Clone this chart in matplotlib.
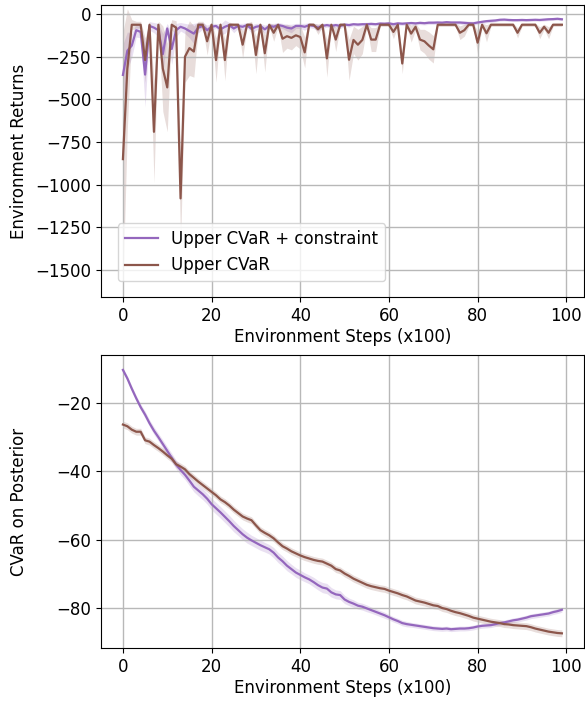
import numpy as np
import matplotlib
matplotlib.use('Agg')
import matplotlib.pyplot as plt

# x axis: environment steps (x100)
steps = np.arange(100)

labels = ['Upper CVaR + constraint', 'Upper CVaR']
colors = ['tab:purple', 'tab:brown']

# top panel: environment returns (mean, std)
returns_constraint = [
    -357, -215, -185, -95, -105, -355, -70, -80, -95, -235,
    -85, -205, -95, -75, -85, -100, -115, -80, -70, -95,
    -75, -70, -90, -75, -65, -85, -70, -75, -65, -88,
    -75, -70, -90, -70, -75, -65, -70, -80, -85, -70,
    -70, -75, -65, -70, -80, -70, -65, -70, -65, -70,
    -62, -65, -60, -62, -60, -60, -58, -60, -56, -57,
    -55, -60, -55, -57, -55, -53, -55, -52, -54, -51,
    -51, -50, -51, -48, -50, -50, -50, -52, -54, -55,
    -50, -46, -42, -40, -38, -34, -33, -35, -36, -36,
    -35, -36, -35, -34, -35, -33, -31, -30, -28, -31,
]
returns_constraint_std = [
    180, 110, 70, 40, 35, 190, 25, 30, 40, 120,
    30, 90, 40, 25, 30, 40, 60, 30, 20, 30,
    20, 15, 30, 40, 15, 25, 15, 20, 15, 25,
    20, 15, 25, 15, 20, 15, 15, 20, 25, 15,
    15, 20, 15, 15, 20, 15, 12, 15, 12, 15,
    10, 12, 10, 10, 10, 12, 10, 10, 10, 10,
    10, 12, 10, 10, 10, 10, 10, 10, 10, 10,
    10, 10, 10, 10, 10, 10, 10, 12, 12, 12,
    10, 10, 10, 10, 8, 8, 8, 8, 8, 8,
    8, 8, 8, 8, 8, 8, 8, 8, 8, 8,
]
returns_upper = [
    -850, -320, -63, -63, -63, -270, -63, -690, -63, -320,
    -430, -63, -80, -1080, -250, -200, -220, -63, -63, -160,
    -63, -270, -63, -270, -63, -63, -63, -180, -63, -63,
    -240, -63, -230, -63, -110, -63, -145, -130, -140, -125,
    -135, -225, -63, -63, -90, -63, -260, -63, -150, -63,
    -63, -268, -152, -180, -152, -63, -150, -150, -63, -63,
    -63, -105, -63, -290, -63, -115, -75, -150, -160, -185,
    -207, -63, -63, -63, -63, -63, -110, -95, -63, -63,
    -168, -63, -113, -63, -63, -63, -63, -63, -63, -110,
    -63, -63, -63, -63, -110, -75, -110, -63, -63, -63,
]
returns_upper_std = [
    740, 350, 30, 20, 20, 130, 20, 300, 20, 250,
    260, 30, 40, 260, 150, 160, 150, 20, 20, 80,
    15, 130, 15, 120, 15, 10, 10, 80, 10, 20,
    110, 10, 110, 10, 50, 10, 80, 70, 70, 60,
    70, 90, 10, 10, 30, 10, 110, 10, 70, 10,
    10, 120, 80, 90, 80, 10, 70, 70, 10, 10,
    10, 40, 10, 60, 10, 50, 20, 60, 70, 80,
    80, 10, 10, 10, 10, 10, 40, 35, 10, 10,
    70, 10, 50, 10, 10, 10, 10, 10, 10, 30,
    10, 10, 10, 10, 35, 15, 35, 10, 10, 10,
]

# bottom panel: CVaR on posterior (mean, std)
cvar_constraint = [
    -10.3, -12.8, -15.8, -18.6, -21.2, -23.4, -25.9, -28.1, -30.0, -32.0,
    -34.0, -36.0, -38.0, -39.6, -41.0, -42.7, -44.5, -45.6, -46.7, -48.0,
    -49.6, -50.8, -52.0, -53.3, -54.6, -56.0, -57.2, -58.4, -59.4, -60.2,
    -60.9, -61.6, -62.2, -62.8, -63.8, -65.2, -66.3, -67.6, -68.6, -69.6,
    -70.3, -71.0, -71.6, -72.4, -73.3, -74.0, -74.3, -75.4, -76.0, -76.2,
    -77.5, -78.2, -78.7, -79.3, -79.6, -80.1, -80.6, -81.1, -81.6, -82.1,
    -82.7, -83.3, -83.8, -84.4, -84.7, -84.9, -85.1, -85.3, -85.5, -85.7,
    -85.9, -86.0, -86.1, -86.0, -86.2, -86.1, -86.0, -86.0, -85.9, -85.7,
    -85.4, -85.2, -85.1, -85.0, -84.7, -84.4, -84.2, -83.9, -83.6, -83.4,
    -83.1, -82.8, -82.4, -82.2, -82.0, -81.8, -81.6, -81.2, -80.9, -80.5,
]
cvar_constraint_std = [
    0.6, 0.7, 0.8, 0.8, 0.9, 1.0, 1.0, 1.1, 1.1, 1.2,
    1.2, 1.3, 1.3, 1.4, 1.4, 1.5, 1.5, 1.6, 1.6, 1.6,
    1.7, 1.7, 1.7, 1.7, 1.7, 1.7, 1.6, 1.6, 1.6, 1.5,
    1.5, 1.5, 1.4, 1.4, 1.5, 1.5, 1.5, 1.5, 1.4, 1.4,
    1.4, 1.3, 1.3, 1.4, 1.4, 1.5, 1.5, 1.4, 1.3, 1.3,
    1.2, 1.1, 1.1, 1.0, 1.0, 1.0, 0.9, 0.9, 0.9, 0.9,
    0.8, 0.8, 0.8, 0.8, 0.8, 0.7, 0.7, 0.7, 0.7, 0.7,
    0.7, 0.7, 0.7, 0.7, 0.7, 0.7, 0.7, 0.7, 0.7, 0.7,
    0.7, 0.7, 0.7, 0.7, 0.7, 0.7, 0.7, 0.7, 0.7, 0.7,
    0.7, 0.7, 0.7, 0.7, 0.7, 0.7, 0.7, 0.7, 0.7, 0.7,
]
cvar_upper = [
    -26.3, -26.8, -27.8, -28.4, -28.4, -30.9, -31.3, -32.3, -33.2, -34.2,
    -35.3, -36.3, -37.9, -38.6, -39.4, -40.8, -41.9, -43.0, -44.0, -45.0,
    -46.0, -47.0, -48.2, -49.0, -50.0, -51.2, -52.2, -53.2, -53.8, -54.3,
    -55.8, -57.2, -58.0, -58.7, -59.6, -60.8, -61.9, -62.6, -63.4, -64.0,
    -64.6, -65.1, -65.5, -65.9, -66.2, -66.4, -67.0, -67.6, -68.6, -69.0,
    -69.9, -70.6, -71.4, -72.0, -72.6, -73.2, -73.6, -73.9, -74.2, -74.4,
    -74.9, -75.3, -75.7, -76.2, -76.6, -77.2, -77.8, -78.1, -78.4, -78.8,
    -79.2, -79.4, -80.0, -80.3, -80.8, -81.2, -81.5, -81.9, -82.3, -82.8,
    -83.1, -83.4, -83.7, -84.0, -84.2, -84.4, -84.7, -84.8, -85.0, -85.1,
    -85.2, -85.3, -85.6, -86.0, -86.3, -86.6, -86.9, -87.1, -87.3, -87.4,
]
cvar_upper_std = [1.0] * 100

fig = plt.figure(figsize=(5.85, 7.04), dpi=100)
plt.rcParams['font.size'] = 12
ax1 = fig.add_axes([0.1726, 0.578, 0.8254, 0.415])
ax2 = fig.add_axes([0.1726, 0.0795, 0.8254, 0.4162])

top = [(returns_constraint, returns_constraint_std), (returns_upper, returns_upper_std)]
bottom = [(cvar_constraint, cvar_constraint_std), (cvar_upper, cvar_upper_std)]

for ax, series in ((ax1, top), (ax2, bottom)):
    for (mean, std), label, color in zip(series, labels, colors):
        mean = np.asarray(mean, dtype=float)
        std = np.asarray(std, dtype=float)
        ax.plot(steps, mean, color=color, lw=1.6, label=label)
        ax.fill_between(steps, mean - std, mean + std, color=color, alpha=0.2, lw=0)
    ax.grid(True, color='#b8b8b8', lw=1.0)
    ax.set_xlabel('Environment Steps (x100)', fontsize=12, labelpad=2)
    ax.set_xticks(range(0, 101, 20))
    ax.set_xlim(-4.95, 103.95)
    ax.tick_params(labelsize=12)

ax1.set_ylim(-1658, 53)
ax1.set_yticks(range(-1500, 1, 250))
ax1.set_ylabel('Environment Returns', fontsize=12)
ax1.legend(loc='lower left', bbox_to_anchor=(0.035, 0.055), borderaxespad=0, fontsize=12)

ax2.set_ylim(-91.7, -5.95)
ax2.set_yticks([-80, -60, -40, -20])
ax2.set_ylabel('CVaR on Posterior', fontsize=12)

# both y labels share one column, as in the original
for ax in (ax1, ax2):
    ax.yaxis.set_label_coords(-0.152, 0.5)

fig.savefig('out.png', dpi=100)
